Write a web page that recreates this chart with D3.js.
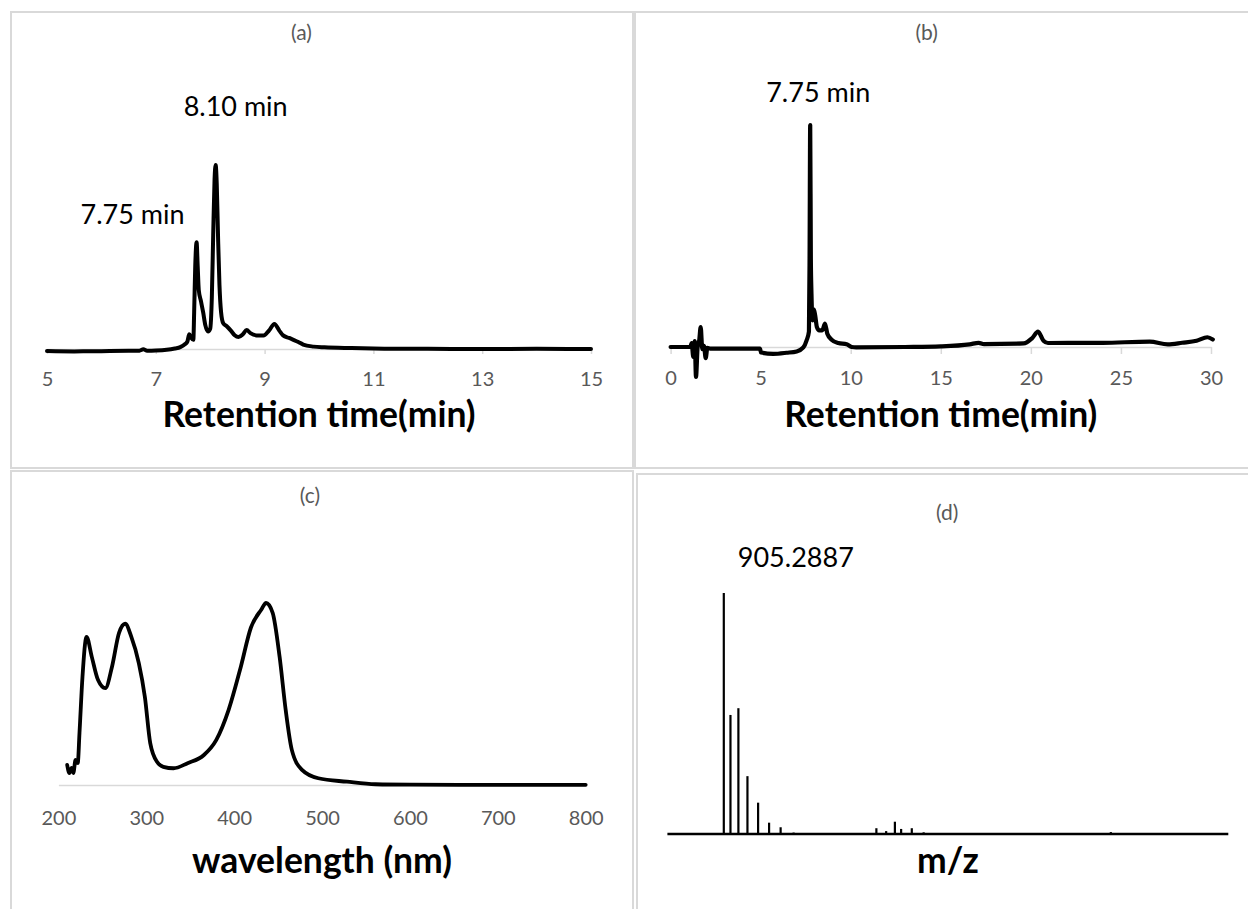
<!DOCTYPE html>
<html>
<head>
<meta charset="utf-8">
<script src="https://cdn.jsdelivr.net/npm/d3@7"></script>
<style>
  html, body { margin: 0; padding: 0; background: #fff; }
  svg { display: block; }
</style>
</head>
<body>
<svg id="fig" width="1248" height="909"></svg>
<script>
// ---- (a) HPLC chromatogram, 5–15 min (relative absorbance) ----
const timeA = [5.0, 5.5, 6.0, 6.5, 6.7, 6.77, 6.84, 7.0, 7.2, 7.35, 7.45, 7.54, 7.58, 7.615, 7.65, 7.69,
  7.705, 7.725, 7.75, 7.77, 7.79, 7.83, 7.87, 7.91, 7.96, 8.0, 8.03, 8.055, 8.08, 8.10, 8.12, 8.145,
  8.17, 8.2, 8.24, 8.3, 8.38, 8.45, 8.52, 8.6, 8.67, 8.74, 8.85, 8.98, 9.08, 9.18, 9.27, 9.34, 9.45,
  9.53, 9.62, 9.71, 9.9, 10.1, 10.6, 11.2, 12.0, 13.0, 14.0, 15.0];
const signalA = [-1.1, -1.3, -1.2, -1.0, -0.9, -0.2, -0.9, -0.8, -0.4, 0.3, 1.0, 2.7, 4, 8, 6, 5,
  20, 45, 58, 45, 32, 26, 20, 13, 9.5, 11, 28, 62, 92, 100, 90, 60,
  35, 20, 14, 12.5, 10, 7.5, 6.5, 8, 10.3, 8.6, 7.4, 7.3, 10, 13.6, 10, 7.4, 6,
  5, 3.8, 2.4, 1.3, 0.9, 0.5, 0.2, 0.1, 0, 0.1, 0];
const ticksA = [5, 7, 9, 11, 13, 15];

// ---- (b) HPLC chromatogram, 0–30 min ----
const timeB = [0, 1.1, 1.17, 1.26, 1.34, 1.41, 1.5, 1.59, 1.67, 1.76, 1.85, 1.95, 2.04, 2.2, 3.5, 4.96,
  5.02, 5.7, 6.44, 7.0, 7.37, 7.55, 7.68, 7.715, 7.75, 7.785, 7.82, 7.88, 7.95, 8.03, 8.12, 8.25, 8.42,
  8.57, 8.7, 8.94, 9.31, 9.77, 10.05, 10.3, 13.0, 15.0, 16.6, 17.1, 17.4, 19.6, 20.06, 20.4, 20.7,
  20.95, 24.0, 26.6, 27.6, 28.4, 29.2, 29.8, 30.1];
const signalB = [0, 0, 1.8, -4.5, 2.7, -13.5, 0, 3, 9, -1, 0.5, -5, -0.4, -0.7, -0.7, -0.7,
  -2.5, -3.1, -2.6, -2, -0.2, 3, 7, 40, 100, 40, 24, 12, 17, 14, 9, 7.5, 7.5,
  10.5, 6, 3.3, 1.8, 1.2, 0, -0.2, 0, 0.3, 1.2, 1.9, 1.3, 1.6, 3.9, 6.9, 2.8,
  1.8, 1.9, 2.4, 1.2, 1.9, 2.8, 4.4, 3.4];
const ticksB = [0, 5, 10, 15, 20, 25, 30];

// ---- (c) UV-Vis absorption spectrum ----
const wavelengthC = [210, 212.5, 215, 217, 219.5, 222, 224, 227.4, 232, 238, 245, 253.4, 261, 269,
  276, 283, 291.5, 298.4, 304.5, 312.4, 319.4, 331, 347, 365.6, 379.7, 393.7, 407.6, 419, 430.8,
  436.3, 443.8, 451.7, 458.6, 465.6, 477.2, 495.8, 528.4, 560.8, 600, 700, 800];
const absorbanceC = [11, 6.6, 9.4, 6.6, 13.8, 12, 28.6, 59.4, 81.4, 70.4, 57.8, 53.2, 65, 83.6,
  88.6, 81.4, 67, 48.4, 23, 12.6, 10, 9.2, 12, 16.5, 24.8, 41.3, 65, 86.4, 96.3,
  100, 94.6, 70.4, 41.3, 19.3, 8.3, 3.7, 1.8, 0.4, 0.2, 0.1, 0.1];
const ticksC = [200, 300, 400, 500, 600, 700, 800];

// ---- (d) HR-MS spectrum (relative intensity) ----
const mzD = [905.2887, 906.12, 907.11, 908.24, 909.57, 910.94, 912.38, 914.0,
  924.33, 925.55, 926.64, 927.42, 928.75, 930.23, 931.7, 953.59, 956.05];
const intensityD = [100, 49.4, 52.2, 24, 13, 4.7, 2.8, 0.6,
  2.4, 1.2, 5.1, 2.1, 2.4, 0.7, 0.4, 0.8, 0.4];

const panelTitles = ["(a)", "(b)", "(c)", "(d)"];
const axisTitles = ["Retention time(min)", "Retention time(min)", "wavelength (nm)", "m/z"];
const peakLabels = ["7.75 min", "8.10 min", "7.75 min", "905.2887"];

// ---- styling ----
const FONT = "Lato, 'Open Sans', sans-serif";
const GRID = "#d9d9d9";
const TICK_TEXT = "#595959";
const TITLE_SIZE = 21, TICK_SIZE = 20, AXIS_TITLE_SIZE = 35.5, LABEL_SIZE = 27;
const svg = d3.select("#fig");

// panel frames
const frames = [[11, 12, 622, 456], [635, 12, 620, 456], [11, 471, 622, 450], [637, 474, 620, 450]];
svg.selectAll("rect.frame").data(frames).join("rect")
  .attr("class", "frame")
  .attr("x", d => d[0]).attr("y", d => d[1])
  .attr("width", d => d[2]).attr("height", d => d[3])
  .attr("fill", "none").attr("stroke", GRID).attr("stroke-width", 2);

// scales
const xA = d3.scaleLinear().domain([5, 15]).range([47, 591]);
const yA = d3.scaleLinear().domain([0, 100]).range([349, 165]);
const xB = d3.scaleLinear().domain([0, 30]).range([670.6, 1211]);
const yB = d3.scaleLinear().domain([0, 100]).range([347, 125]);
const xC = d3.scaleLinear().domain([200, 800]).range([58.4, 585.7]);
const yC = d3.scaleLinear().domain([0, 100]).range([785, 603]);
const xD = d3.scaleLinear().domain([898.25, 968.25]).range([667.4, 1228.3]);
const yD = d3.scaleLinear().domain([0, 100]).range([834, 593]);

function bottomAxis(xs, y0, ticks, tickLen, labelBase) {
  const g = svg.append("g").attr("transform", `translate(0,${y0})`)
    .call(d3.axisBottom(xs).tickValues(ticks).tickSize(tickLen).tickSizeOuter(0).tickFormat(d3.format("d")));
  g.select(".domain").attr("stroke", GRID).attr("stroke-width", 1.5);
  g.selectAll(".tick line").attr("stroke", GRID).attr("stroke-width", 1.5);
  g.selectAll(".tick text")
    .attr("fill", TICK_TEXT).attr("font-size", TICK_SIZE).attr("font-family", FONT)
    .attr("dy", null).attr("y", labelBase);
  return g;
}

function traceLine(xs, ys, xs_data, ys_data, width) {
  const pts = xs_data.map((v, i) => [v, ys_data[i]]);
  svg.append("path")
    .datum(pts)
    .attr("fill", "none")
    .attr("stroke", "#000")
    .attr("stroke-width", width)
    .attr("stroke-linejoin", "round")
    .attr("stroke-linecap", "round")
    .attr("d", d3.line().x(d => xs(d[0])).y(d => ys(d[1])).curve(d3.curveMonotoneX));
}

function text(str, x, y, opts) {
  return svg.append("text")
    .attr("x", x).attr("y", y)
    .attr("font-family", FONT)
    .attr("font-size", opts.size)
    .attr("font-weight", opts.weight || "normal")
    .attr("fill", opts.fill || "#000")
    .attr("text-anchor", opts.anchor || "middle")
    .text(str);
}

// (a)
bottomAxis(xA, 349, ticksA, 5, 37);
traceLine(xA, yA, timeA, signalA, 4);
text(panelTitles[0], 301.5, 40, { size: TITLE_SIZE, fill: TICK_TEXT });
text(axisTitles[0], d3.mean(xA.range()), 426.7, { size: AXIS_TITLE_SIZE, weight: "bold" });
text(peakLabels[0], xA(7.75) - 12, yA(58) - 18, { size: LABEL_SIZE, anchor: "end" });
text(peakLabels[1], xA(8.10) - 32, yA(100) - 49, { size: LABEL_SIZE, anchor: "start" });

// (b)
bottomAxis(xB, 347, ticksB, 7, 38);
traceLine(xB, yB, timeB, signalB, 4.2);
text(panelTitles[1], 926.6, 40, { size: TITLE_SIZE, fill: TICK_TEXT });
text(axisTitles[1], d3.mean(xB.range()), 426.7, { size: AXIS_TITLE_SIZE, weight: "bold" });
text(peakLabels[2], xB(7.75) - 44, yB(100) - 23, { size: LABEL_SIZE, anchor: "start" });

// (c)
bottomAxis(xC, 785, ticksC, 0, 40);
traceLine(xC, yC, wavelengthC, absorbanceC, 3.8);
text(panelTitles[2], 310, 503, { size: TITLE_SIZE, fill: TICK_TEXT });
text(axisTitles[2], d3.mean(xC.range()), 872.7, { size: AXIS_TITLE_SIZE, weight: "bold" });

// (d) stick spectrum
svg.append("g").selectAll("line").data(mzD.map((m, i) => [m, intensityD[i]])).join("line")
  .attr("x1", d => xD(d[0])).attr("x2", d => xD(d[0]))
  .attr("y1", yD(0)).attr("y2", d => yD(d[1]))
  .attr("stroke", "#000").attr("stroke-width", 2.2);
svg.append("line")
  .attr("x1", xD.range()[0]).attr("x2", xD.range()[1])
  .attr("y1", yD(0)).attr("y2", yD(0))
  .attr("stroke", "#000").attr("stroke-width", 2.5);
text(panelTitles[3], 947.3, 519.5, { size: TITLE_SIZE, fill: TICK_TEXT });
text(axisTitles[3], d3.mean(xD.range()), 872.7, { size: AXIS_TITLE_SIZE, weight: "bold" });
text(peakLabels[3], xD(905.2887) + 14, yD(100) - 26, { size: LABEL_SIZE, anchor: "start" });
</script>
</body>
</html>
